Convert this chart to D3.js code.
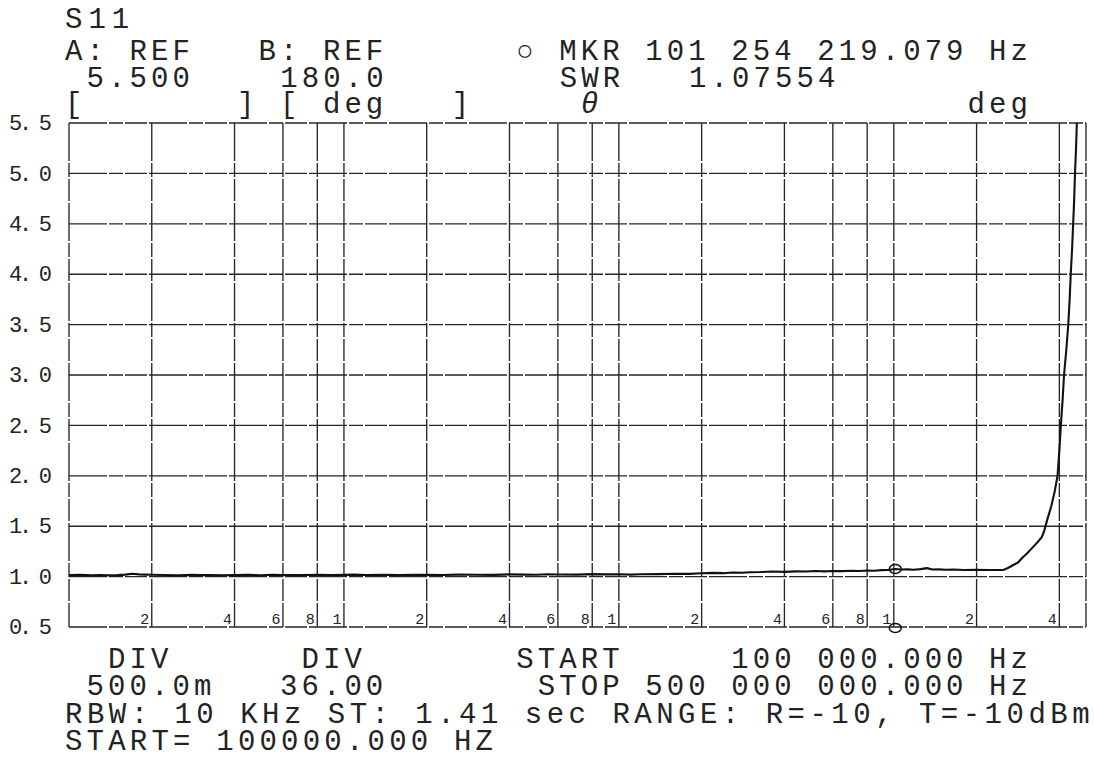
<!DOCTYPE html>
<html><head><meta charset="utf-8">
<script src="https://cdn.jsdelivr.net/npm/d3@7"></script>
<style>
html,body{margin:0;padding:0;background:#fff;}
svg text{font-family:"Liberation Mono","DejaVu Sans Mono",monospace;fill:#232323;white-space:pre;}
</style></head><body>
<svg id="c" width="1094" height="758"></svg>
<script>
// ---- data ----
const freqMHz = [0.1,0.11,0.12,0.13,0.14,0.15,0.16,0.17,0.18,0.19,0.2,0.22,0.25,0.28,0.3,0.33,0.36,0.4,0.45,0.5,0.55,0.6,0.7,0.8,0.9,
  1.0,1.1,1.2,1.4,1.6,1.8,2.0,2.3,2.6,3.0,3.5,4.0,4.5,5.0,5.5,6.0,7.0,8.0,9.0,
  10,11,12,14,16,18,20,22,24,26,28,30,33,36,40,44,48,52,56,60,65,70,75,80,85,90,95,
  101.25,106,112,118,125,132,138,145,155,165,180,200,220,240,250,260,270,283,294,305,315,325,333,345,352,362,374,385,394,400,405,411,416,424,431,436,440,445,449,453,456,460,463];
const swr = [1.015,1.017,1.014,1.016,1.012,1.015,1.020,1.028,1.022,1.020,1.018,1.016,1.014,1.017,1.015,1.016,1.013,1.015,1.017,1.014,1.019,1.016,1.015,1.018,1.016,
  1.017,1.020,1.016,1.018,1.015,1.019,1.017,1.016,1.020,1.018,1.017,1.022,1.020,1.019,1.023,1.021,1.020,1.025,1.022,
  1.024,1.020,1.023,1.025,1.028,1.027,1.033,1.037,1.034,1.040,1.038,1.043,1.045,1.050,1.047,1.052,1.050,1.055,1.052,1.056,1.054,1.058,1.055,1.060,1.058,1.064,1.066,
  1.0755,1.070,1.072,1.068,1.074,1.084,1.070,1.072,1.068,1.070,1.066,1.068,1.065,1.065,1.066,1.085,1.11,1.14,1.19,1.23,1.27,1.31,1.34,1.39,1.45,1.57,1.70,1.85,2.0,2.25,2.5,2.75,3.0,3.25,3.5,3.75,4.0,4.25,4.5,4.75,5.0,5.25,5.5];
const yTicks = [0.5,1.0,1.5,2.0,2.5,3.0,3.5,4.0,4.5,5.0,5.5];
const yTickLabels = ["0. 5","1. 0","1. 5","2. 0","2. 5","3. 0","3. 5","4. 0","4. 5","5. 0","5. 5"];
const xGridHz = [2e5,4e5,6e5,8e5,1e6,2e6,4e6,6e6,8e6,1e7,2e7,4e7,6e7,8e7,1e8,2e8,4e8];
const xGridLabels = ["2","4","6","8","1","2","4","6","8","1","2","4","6","8","1","2","4"];
const markerHz = 101254219.079;
const markerSwr = 1.07554;
const headerLines = [
  "S11",
  "A: REF   B: REF      \u25CB MKR 101 254 219.079 Hz",
  " 5.500    180.0        SWR   1.07554",
  "[       ] [ deg   ]     \u03B8                 deg"
];
const footerLines = [
  "  DIV      DIV       START     100 000.000 Hz",
  " 500.0m   36.00       STOP 500 000 000.000 Hz",
  "RBW: 10 KHz ST: 1.41 sec RANGE: R=-10, T=-10dBm",
  "START= 100000.000 HZ"
];

// ---- layout ----
const L = 69, R = 1086, T = 123, B = 627;
const cell = 21.4, textX = 65;
const headerY = [28, 60, 87, 113];
const footerY = [668, 695, 723, 750];
const footerCell = [21.4, 21.4, 21.8, 21.4];
const ink = "#232323";

const svg = d3.select("#c");
const x = d3.scaleLog().domain([1e5, 5e8]).range([L, R]);
const y = d3.scaleLinear().domain([0.5, 5.5]).range([B, T]);

const grid = svg.append("g").attr("stroke", "#262626").attr("stroke-width", 1.35)
  .attr("stroke-dasharray", "38,2,14,2,22,2");
grid.selectAll("line.h").data(yTicks).join("line").attr("class","h")
  .attr("x1", L).attr("x2", R).attr("y1", d => y(d)).attr("y2", d => y(d));
grid.selectAll("line.v").data(xGridHz).join("line").attr("class","v")
  .attr("x1", d => x(d)).attr("x2", d => x(d)).attr("y1", T).attr("y2", B);
grid.append("line").attr("x1", L).attr("x2", L).attr("y1", T).attr("y2", B);
grid.append("line").attr("x1", R).attr("x2", R).attr("y1", T).attr("y2", B);

// y axis labels
const yAxis = d3.axisLeft(y).tickValues(yTicks).tickSize(0).tickPadding(17)
  .tickFormat((d, i) => yTickLabels[i]);
const ya = svg.append("g").attr("transform", `translate(${L},0)`).call(yAxis);
ya.attr("font-size", null).attr("font-family", null);
ya.select(".domain").remove();
ya.selectAll("text").style("font-size", "22px").attr("dy", "0.3em")
  .attr("textLength", 43).attr("lengthAdjust", "spacing")
  .style("font-family", '"Liberation Mono","DejaVu Sans Mono",monospace').style("fill", ink);

// x grid digit labels
svg.append("g").selectAll("text").data(xGridHz).join("text")
  .attr("x", d => x(d) - 2.5).attr("y", B - 3)
  .attr("text-anchor", "end").style("font-size", "15px")
  .text((d, i) => xGridLabels[i]);

// trace
const pts = freqMHz.map((f, i) => [f * 1e6, swr[i]]);
svg.append("defs").append("clipPath").attr("id", "clip")
  .append("rect").attr("x", L).attr("y", T - 1).attr("width", R - L).attr("height", B - T + 1);
svg.append("path").datum(pts).attr("clip-path", "url(#clip)")
  .attr("fill", "none").attr("stroke", "#111").attr("stroke-width", 2.1).attr("stroke-linejoin", "round")
  .attr("d", d3.line().x(d => x(d[0])).y(d => y(d[1])));

// markers
svg.append("ellipse").attr("cx", x(markerHz)).attr("cy", y(markerSwr)).attr("rx", 6).attr("ry", 4.5)
  .attr("fill", "none").attr("stroke", "#111").attr("stroke-width", 1.5);
svg.append("ellipse").attr("cx", x(markerHz)).attr("cy", B + 1).attr("rx", 6).attr("ry", 4.5)
  .attr("fill", "none").attr("stroke", "#111").attr("stroke-width", 1.5);

// header / footer text (plotter-style monospaced rows)
function textRows(lines, ys, cells) {
  svg.append("g").selectAll("text").data(lines).join("text")
    .attr("x", textX).attr("y", (d, i) => ys[i])
    .attr("xml:space", "preserve")
    .style("font-size", "29px")
    .attr("textLength", (d, i) => d.length * cells[i]).attr("lengthAdjust", "spacing")
    .each(function(d) {
      const parts = d.split("\u03B8");
      const t = d3.select(this);
      parts.forEach((p, k) => {
        if (k > 0) t.append("tspan").style("font-style", "italic").text("\u03B8");
        t.append("tspan").text(p);
      });
    });
}
textRows(headerLines, headerY, headerLines.map(() => cell));
textRows(footerLines, footerY, footerCell);
</script>
</body></html>
